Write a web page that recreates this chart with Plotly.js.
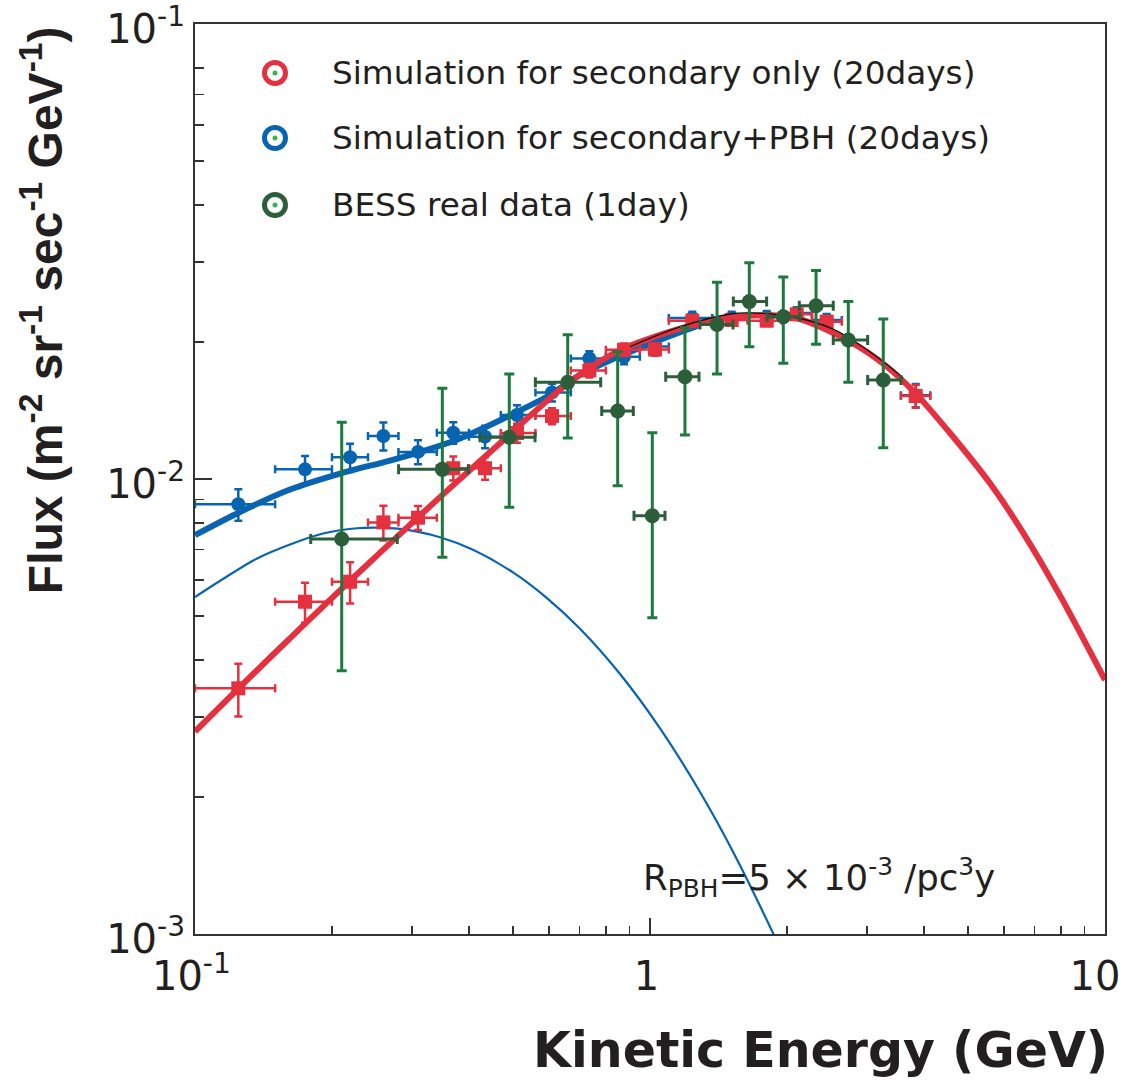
<!DOCTYPE html>
<html><head><meta charset="utf-8">
<script src="https://cdn.plot.ly/plotly-3.0.1.min.js"></script>
<style>html,body{margin:0;padding:0;background:#fff}#chart{width:1122px;height:1080px}</style>
</head><body><div id="chart"></div>
<script>
// ---------- data ----------
// simulation energy bins (GeV)
const simE   = [0.1245,0.1745,0.2192,0.2594,0.3091,0.3695,0.4339,0.5101,0.609,0.7357,0.8768,1.0256,1.2388,1.512,1.805,2.101,2.445,3.837];
const simELo = [0.1,0.15,0.2,0.24,0.28,0.34,0.40,0.47,0.56,0.67,0.80,0.95,1.10,1.37,1.64,1.95,2.27,3.56];
const simEHi = [0.15,0.2,0.24,0.28,0.34,0.40,0.47,0.56,0.67,0.80,0.95,1.10,1.37,1.64,1.95,2.27,2.64,4.13];
// secondary only (20 days)
const secFlux = [0.003467,0.005374,0.005946,0.008029,0.008221,0.01056,0.01056,0.01262,0.01375,0.01732,0.01924,0.01926,0.02228,0.02236,0.02228,0.02301,0.02217,0.01522];
const secErr  = [0.00046,0.00054,0.00062,0.0007,0.0005,0.00064,0.0006,0.0006,0.00055,0.0006,0.0006,0.0006,0.0006,0.0006,0.0006,0.0006,0.0006,0.00088];
// secondary + PBH (20 days)
const pbhFlux = [0.0088,0.0105,0.01116,0.01243,0.01147,0.01264,0.01239,0.01382,0.0155,0.0184,0.01857,0.01955,0.0226,0.0226,0.0227,0.02316,0.02236,0.01527];
const pbhErr  = [0.0007,0.00074,0.0008,0.00088,0.0007,0.00068,0.0007,0.0007,0.0007,0.0007,0.0007,0.0007,0.0007,0.0007,0.0007,0.0007,0.0007,0.0009];
// BESS real data (1 day)
const bessE      = [0.2101,0.3496,0.4906,0.6594,0.8491,1.0117,1.1935,1.404,1.6529,1.9633,2.317,2.728,3.256];
const bessELo    = [0.1796,0.2802,0.4231,0.5598,0.7833,0.9222,1.0827,1.288,1.5246,1.808,2.129,2.528,3.009];
const bessEHi    = [0.2783,0.3988,0.5589,0.7792,0.919,1.0788,1.2814,1.5225,1.8044,2.136,2.528,3.009,3.561];
const bessFlux   = [0.007381,0.0105,0.01235,0.01631,0.01411,0.008305,0.01678,0.02186,0.02454,0.02273,0.02404,0.02021,0.01651];
const bessFluxLo = [0.003791,0.006728,0.00867,0.0123,0.00967,0.004956,0.0125,0.01702,0.01954,0.01796,0.01977,0.01631,0.01172];
const bessFluxHi = [0.01332,0.01582,0.01702,0.02075,0.01905,0.01264,0.0215,0.02706,0.02988,0.0278,0.02871,0.02454,0.02247];
// model curves
const secCurveE = [0.1,0.1243,0.1701,0.2192,0.3075,0.3508,0.468,0.6571,0.8593,1.206,1.522,1.808,2.136,2.752,3.318,3.862,4.563,5.588,6.603,7.964,10];
const secCurveF = [0.002786,0.003458,0.004692,0.005975,0.008197,0.009252,0.01199,0.01616,0.0192,0.02162,0.02266,0.02293,0.02247,0.02003,0.01765,0.0153,0.01262,0.009784,0.007625,0.005546,0.003616];
const totCurveE = [0.1,0.1256,0.1617,0.2084,0.2683,0.317,0.3765,0.445,0.5101,0.6031,0.7018,0.8293,0.9506,1.1066,1.288];
const totCurveF = [0.007529,0.008465,0.00948,0.01028,0.01098,0.01152,0.0122,0.01314,0.01404,0.0153,0.01693,0.01835,0.0194,0.02062,0.02181];
const totTailE  = [0.9038,1.164,1.499,1.659,2.062,2.525,2.894,3.37,3.597];
const totTailF  = [0.01953,0.02159,0.02305,0.02317,0.0227,0.02136,0.0197,0.01762,0.01667];
const pbhCurveE = [0.1,0.1152,0.1369,0.1617,0.1911,0.227,0.2487,0.2822,0.3455,0.4083,0.5,0.5937,0.7018,0.8593,1.052,1.288,1.522,1.863,2.031];
const pbhCurveF = [0.005504,0.006029,0.006688,0.007178,0.00759,0.007795,0.007822,0.007767,0.007449,0.006989,0.006233,0.005472,0.004686,0.003727,0.002831,0.002052,0.001517,0.001005,0.00083];
// labels
const legendNames = ['Simulation for secondary only (20days)','Simulation for secondary+PBH (20days)','BESS real data (1day)'];
const xTickVals = [0.1, 1, 10];
const xTickText = ['\u00a010<sup>-1</sup>', '\u00a01', '10'];
const xMinorVals = [0.2,0.3,0.4,0.5,0.6,0.7,0.8,0.9,2,3,4,5,6,7,8,9];
const yTickVals = [0.001, 0.01, 0.1];
const yTickText = ['10<sup>-3</sup>', '10<sup>-2</sup>', '10<sup>-1</sup>'];
const yMinorVals = [0.002,0.003,0.004,0.005,0.006,0.007,0.008,0.009,0.02,0.03,0.04,0.05,0.06,0.07,0.08];
const xTitle = 'Kinetic Energy (GeV)';
const yTitle = 'Flux (m<sup>-2</sup> sr<sup>-1</sup> sec<sup>-1</sup> GeV<sup>-1</sup>)';
const noteText = 'R<sub>PBH</sub>=5\u00a0\u00d7\u00a010<sup>-3</sup> /pc<sup>3</sup>y';

// ---------- styles ----------
const RED = '#e5303f', BLUE = '#0864b0', GREEN = '#2b5e39', GREENBAR = '#1d7a3d', INK = '#231f20';
const minus = (v, lo) => v.map((x, i) => x - lo[i]);
const plus  = (v, hi) => v.map((x, i) => hi[i] - x);

const traces = [
  {x: pbhCurveE, y: pbhCurveF, mode: 'lines', line: {color: BLUE, width: 2.2, shape: 'spline', smoothing: 0.8}, hoverinfo: 'skip'},
  {x: simE, y: pbhFlux, mode: 'markers', name: legendNames[1],
   marker: {symbol: 'circle', size: 14, color: BLUE},
   error_x: {type: 'data', symmetric: false, array: plus(simE, simEHi), arrayminus: minus(simE, simELo), color: BLUE, thickness: 2.5, width: 4},
   error_y: {type: 'data', array: pbhErr, color: BLUE, thickness: 2.5, width: 4}},
  {x: totCurveE, y: totCurveF, mode: 'lines', line: {color: BLUE, width: 6, shape: 'spline', smoothing: 0.8}, hoverinfo: 'skip'},
  {x: simE, y: secFlux, mode: 'markers', name: legendNames[0],
   marker: {symbol: 'square', size: 14, color: RED},
   error_x: {type: 'data', symmetric: false, array: plus(simE, simEHi), arrayminus: minus(simE, simELo), color: RED, thickness: 2.5, width: 4},
   error_y: {type: 'data', array: secErr, color: RED, thickness: 2.5, width: 4}},
  {x: secCurveE, y: secCurveF, mode: 'lines', line: {color: RED, width: 6, shape: 'spline', smoothing: 0.8}, hoverinfo: 'skip'},
  {x: totTailE, y: totTailF, mode: 'lines', line: {color: '#111', width: 1.3, shape: 'spline'}, hoverinfo: 'skip'},
  {x: bessE, y: bessFlux, mode: 'markers', name: legendNames[2],
   marker: {symbol: 'circle', size: 15, color: GREEN},
   error_x: {type: 'data', symmetric: false, array: plus(bessE, bessEHi), arrayminus: minus(bessE, bessELo), color: GREEN, thickness: 3, width: 5},
   error_y: {type: 'data', symmetric: false, array: plus(bessFlux, bessFluxHi), arrayminus: minus(bessFlux, bessFluxLo), color: GREENBAR, thickness: 3, width: 5}}
];

// manual legend (ring + dot icons, text)
const legColors = [RED, BLUE, GREEN];
const legY = [0.9462, 0.8747, 0.8011];
const shapes = [];
const annotations = [];
legColors.forEach((c, i) => {
  shapes.push({type: 'circle', xref: 'paper', yref: 'paper', xsizemode: 'pixel', ysizemode: 'pixel',
    xanchor: 0.0879, yanchor: legY[i], x0: -10.5, x1: 10.5, y0: -10.5, y1: 10.5,
    line: {color: c, width: 5}, fillcolor: 'rgba(0,0,0,0)'});
  shapes.push({type: 'circle', xref: 'paper', yref: 'paper', xsizemode: 'pixel', ysizemode: 'pixel',
    xanchor: 0.0879, yanchor: legY[i], x0: -2.5, x1: 2.5, y0: -2.5, y1: 2.5,
    line: {width: 0}, fillcolor: '#3cb44b'});
  annotations.push({xref: 'paper', yref: 'paper', x: 0.1483, y: legY[i], xanchor: 'left', yanchor: 'middle',
    text: legendNames[i], showarrow: false, font: {family: 'DejaVu Sans', size: 32.7, color: INK}});
});
annotations.push({xref: 'paper', yref: 'paper', x: 0.4905, y: 0.0626, xanchor: 'left', yanchor: 'middle',
  text: noteText, showarrow: false, font: {family: 'DejaVu Sans', size: 35.5, color: INK}});
annotations.push({xref: 'paper', yref: 'paper', x: 1.006, y: -0.128, xanchor: 'right', yanchor: 'middle',
  text: xTitle, showarrow: false, font: {family: 'DejaVu Sans', size: 49, color: INK, weight: 'bold'}});
annotations.push({xref: 'paper', yref: 'paper', x: -0.168, y: 0.6857, xanchor: 'center', yanchor: 'middle', textangle: -90,
  text: yTitle, showarrow: false, font: {family: 'Liberation Sans', size: 48, color: INK, weight: 'bold'}});

const axisCommon = {
  type: 'log', showgrid: false, zeroline: false, showline: true, mirror: true,
  linecolor: '#333', linewidth: 2, ticks: 'inside', tickwidth: 1.3, tickcolor: '#333',
  tickmode: 'array', ticklabeloverflow: 'allow', tickfont: {family: 'DejaVu Sans', size: 40, color: INK}
};

const layout = {
  width: 1122, height: 1080,
  margin: {l: 195, r: 17, t: 24, b: 146},
  paper_bgcolor: '#fff', plot_bgcolor: '#fff',
  showlegend: false,
  xaxis: Object.assign({}, axisCommon, {range: [-1.00001, 1.00001], tickvals: xTickVals, ticktext: xTickText, ticklen: 16,
    ticklabelstandoff: 6, ticklabelshift: -10,
    minor: {tickmode: 'array', tickvals: xMinorVals, ticks: 'inside', ticklen: 8, tickwidth: 1.3, tickcolor: '#333', showgrid: false}}),
  yaxis: Object.assign({}, axisCommon, {range: [-3.00001, -0.99999], tickvals: yTickVals, ticktext: yTickText, ticklen: 17,
    ticklabelstandoff: 0, ticklabelshift: 5,
    minor: {tickmode: 'array', tickvals: yMinorVals, ticks: 'inside', ticklen: 9, tickwidth: 1.3, tickcolor: '#333', showgrid: false}}),
  shapes: shapes,
  annotations: annotations
};

Plotly.newPlot('chart', traces, layout, {staticPlot: true, displayModeBar: false});
</script>
</body></html>
